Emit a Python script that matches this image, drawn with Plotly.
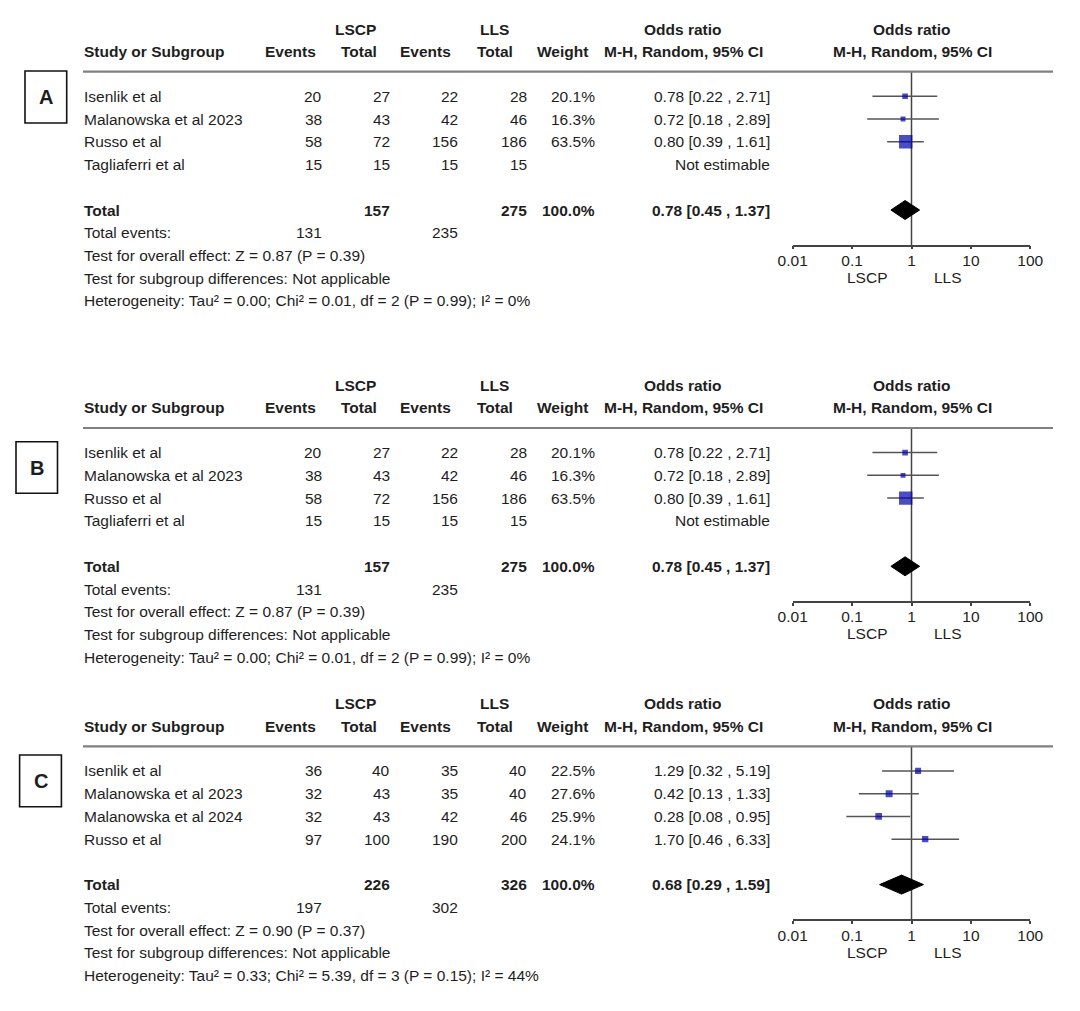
import math
import plotly.graph_objects as go

W, H = 1080, 1011
# the page places the figure 8px in from the top-left corner (default body margin)
DX, DY = 8, 8
FONT = "Liberation Sans, Arial, sans-serif"
FS = 15.5
TC = "#1e1e1e"

# ---------------- data ----------------
panel_labels = ["A", "B", "C"]

studies_A = ["Isenlik et al", "Malanowska et al 2023", "Russo et al", "Tagliaferri et al"]
lscp_events_A = [20, 38, 58, 15]
lscp_total_A = [27, 43, 72, 15]
lls_events_A = [22, 42, 156, 15]
lls_total_A = [28, 46, 186, 15]
weight_A = [20.1, 16.3, 63.5, None]
or_A = [0.78, 0.72, 0.80, None]
ci_low_A = [0.22, 0.18, 0.39, None]
ci_high_A = [2.71, 2.89, 1.61, None]
pooled_A = [0.78, 0.45, 1.37]
totals_A = [157, 275]
total_events_A = [131, 235]
overall_A = "Test for overall effect: Z = 0.87 (P = 0.39)"
subgroup_A = "Test for subgroup differences: Not applicable"
hetero_A = "Heterogeneity: Tau² = 0.00; Chi² = 0.01, df = 2 (P = 0.99); I² = 0%"

studies_B = ["Isenlik et al", "Malanowska et al 2023", "Russo et al", "Tagliaferri et al"]
lscp_events_B = [20, 38, 58, 15]
lscp_total_B = [27, 43, 72, 15]
lls_events_B = [22, 42, 156, 15]
lls_total_B = [28, 46, 186, 15]
weight_B = [20.1, 16.3, 63.5, None]
or_B = [0.78, 0.72, 0.80, None]
ci_low_B = [0.22, 0.18, 0.39, None]
ci_high_B = [2.71, 2.89, 1.61, None]
pooled_B = [0.78, 0.45, 1.37]
totals_B = [157, 275]
total_events_B = [131, 235]
overall_B = "Test for overall effect: Z = 0.87 (P = 0.39)"
subgroup_B = "Test for subgroup differences: Not applicable"
hetero_B = "Heterogeneity: Tau² = 0.00; Chi² = 0.01, df = 2 (P = 0.99); I² = 0%"

studies_C = ["Isenlik et al", "Malanowska et al 2023", "Malanowska et al 2024", "Russo et al"]
lscp_events_C = [36, 32, 32, 97]
lscp_total_C = [40, 43, 43, 100]
lls_events_C = [35, 35, 42, 190]
lls_total_C = [40, 40, 46, 200]
weight_C = [22.5, 27.6, 25.9, 24.1]
or_C = [1.29, 0.42, 0.28, 1.70]
ci_low_C = [0.32, 0.13, 0.08, 0.46]
ci_high_C = [5.19, 1.33, 0.95, 6.33]
pooled_C = [0.68, 0.29, 1.59]
totals_C = [226, 326]
total_events_C = [197, 302]
overall_C = "Test for overall effect: Z = 0.90 (P = 0.37)"
subgroup_C = "Test for subgroup differences: Not applicable"
hetero_C = "Heterogeneity: Tau² = 0.33; Chi² = 5.39, df = 3 (P = 0.15); I² = 44%"

tick_values = [0.01, 0.1, 1, 10, 100]
tick_labels = ["0.01", "0.1", "1", "10", "100"]
favours = ["LSCP", "LLS"]
group_names = ["LSCP", "LLS"]

panels = [
    dict(studies=studies_A, le=lscp_events_A, lt=lscp_total_A, ce=lls_events_A, ct=lls_total_A,
         w=weight_A, orr=or_A, lo=ci_low_A, hi=ci_high_A, pooled=pooled_A, totals=totals_A,
         tev=total_events_A, overall=overall_A, subgroup=subgroup_A, hetero=hetero_A),
    dict(studies=studies_B, le=lscp_events_B, lt=lscp_total_B, ce=lls_events_B, ct=lls_total_B,
         w=weight_B, orr=or_B, lo=ci_low_B, hi=ci_high_B, pooled=pooled_B, totals=totals_B,
         tev=total_events_B, overall=overall_B, subgroup=subgroup_B, hetero=hetero_B),
    dict(studies=studies_C, le=lscp_events_C, lt=lscp_total_C, ce=lls_events_C, ct=lls_total_C,
         w=weight_C, orr=or_C, lo=ci_low_C, hi=ci_high_C, pooled=pooled_C, totals=totals_C,
         tev=total_events_C, overall=overall_C, subgroup=subgroup_C, hetero=hetero_C),
]

# ---------------- layout geometry (screen pixels) ----------------
OFF = [0, 356.3, 674.6]
Y_H1, Y_H2, Y_RULE = 29.3, 51.6, 71.7
Y_ROW0, ROW_DY = 96.3, 22.75
Y_TOTAL, Y_TEV, Y_OVER, Y_SUB, Y_HET = 210.0, 232.7, 255.5, 278.2, 300.8
Y_AXIS, Y_FAV = 245.7, 277.5
BOXES = [(25, 66.7, 71, 123), (16, 57.5, 441.7, 493.3), (19.6, 61.4, 755, 806.7)]
X_LEFT = 83
X_LE, X_LT, X_CE, X_CT, X_W, X_CI = 323, 391, 459, 527.5, 595.5, 770.5
X0_PLOT, X1_PLOT = 792.7, 1030.3
RULE_X1 = 1053
FAV_X = [867, 948]

BLUE = "#0000A8"
LINEC = "#555555"
AXC = "#444444"

annotations = []
shapes = []
traces = []


def fx(px):
    return (px - DX) / W


def fy(py):
    return py - DY


def txt(x, y, s, anchor="left", bold=False, size=FS):
    annotations.append(dict(
        x=fx(x), y=fy(y), xref="paper", yref="y", text=s, showarrow=False,
        xanchor=anchor, yanchor="middle", borderpad=0,
        font=dict(family=FONT, size=size, color=TC, weight="bold" if bold else "normal")))


xa_names = ["x", "x2", "x3"]
layout_axes = {}
for p, (pan, off, lab, box) in enumerate(zip(panels, OFF, panel_labels, BOXES)):
    xa = xa_names[p]
    # headers
    txt((X_LE + X_LT) / 2 - 1.5, off + Y_H1, group_names[0], "center", True)
    txt((X_CE + X_CT) / 2 + 1.5, off + Y_H1, group_names[1], "center", True)
    txt(683, off + Y_H1, "Odds ratio", "center", True)
    txt(912, off + Y_H1, "Odds ratio", "center", True)
    txt(X_LEFT, off + Y_H2, "Study or Subgroup", "left", True)
    txt(290, off + Y_H2, "Events", "center", True)
    txt(358.5, off + Y_H2, "Total", "center", True)
    txt(425.7, off + Y_H2, "Events", "center", True)
    txt(494.6, off + Y_H2, "Total", "center", True)
    txt(562, off + Y_H2, "Weight", "center", True)
    txt(683, off + Y_H2, "M-H, Random, 95% CI", "center", True)
    txt(912, off + Y_H2, "M-H, Random, 95% CI", "center", True)

    shapes.append(dict(type="line", xref="paper", yref="y", x0=fx(X_LEFT), x1=fx(RULE_X1),
                       y0=fy(off + Y_RULE), y1=fy(off + Y_RULE),
                       line=dict(color="#808080", width=2.2)))
    bx0, bx1, by0, by1 = box
    shapes.append(dict(type="rect", xref="paper", yref="y", x0=fx(bx0), x1=fx(bx1),
                       y0=fy(by0), y1=fy(by1), line=dict(color="#111111", width=1.6)))
    txt((bx0 + bx1) / 2, (by0 + by1) / 2, lab, "center", True, 20)

    ci_x, ci_y = [], []
    mx, my, ms = [], [], []
    for i, name in enumerate(pan["studies"]):
        y = off + Y_ROW0 + i * ROW_DY
        txt(X_LEFT, y, name)
        txt(X_LE, y, str(pan["le"][i]), "right")
        txt(X_LT, y, str(pan["lt"][i]), "right")
        txt(X_CE, y, str(pan["ce"][i]), "right")
        txt(X_CT, y, str(pan["ct"][i]), "right")
        if pan["orr"][i] is None:
            txt(X_CI, y, "Not estimable", "right")
        else:
            txt(X_W, y, f"{pan['w'][i]:.1f}%", "right")
            txt(X_CI, y, f"{pan['orr'][i]:.2f} [{pan['lo'][i]:.2f} , {pan['hi'][i]:.2f}]", "right")
            ci_x += [pan["lo"][i], pan["hi"][i], None]
            ci_y += [fy(y), fy(y), None]
            mx.append(pan["orr"][i])
            my.append(fy(y))
            ms.append(2 + 0.18 * pan["w"][i])

    # totals
    yt = off + Y_TOTAL
    txt(X_LEFT, yt, "Total", "left", True)
    txt(X_LT, yt, str(pan["totals"][0]), "right", True)
    txt(X_CT, yt, str(pan["totals"][1]), "right", True)
    txt(X_W, yt, "100.0%", "right", True)
    est, plo, phi = pan["pooled"]
    txt(X_CI, yt, f"{est:.2f} [{plo:.2f} , {phi:.2f}]", "right", True)
    txt(X_LEFT, off + Y_TEV, "Total events:")
    txt(X_LE, off + Y_TEV, str(pan["tev"][0]), "right")
    txt(X_CE, off + Y_TEV, str(pan["tev"][1]), "right")
    txt(X_LEFT, off + Y_OVER, pan["overall"])
    txt(X_LEFT, off + Y_SUB, pan["subgroup"])
    txt(X_LEFT, off + Y_HET, pan["hetero"])

    # line of no effect
    traces.append(go.Scatter(x=[1, 1], y=[fy(off + Y_RULE), fy(off + Y_AXIS)], mode="lines",
                             line=dict(color=AXC, width=1.5), xaxis=xa, yaxis="y",
                             hoverinfo="skip", showlegend=False))
    # CI lines
    traces.append(go.Scatter(x=ci_x, y=ci_y, mode="lines", line=dict(color=LINEC, width=1.5),
                             xaxis=xa, yaxis="y", hoverinfo="skip", showlegend=False))
    # study squares
    traces.append(go.Scatter(x=mx, y=my, mode="markers",
                             marker=dict(symbol="square", size=ms, color=BLUE, line=dict(width=0)),
                             xaxis=xa, yaxis="y", showlegend=False))
    # diamond
    ytd = fy(yt)
    traces.append(go.Scatter(x=[plo, est, phi, est, plo], y=[ytd, ytd - 9.5, ytd, ytd + 9.5, ytd],
                             mode="lines", fill="toself", fillcolor="black",
                             line=dict(color="black", width=1), xaxis=xa, yaxis="y",
                             hoverinfo="skip", showlegend=False))

    # favours labels
    txt(FAV_X[0], off + Y_FAV, favours[0], "center")
    txt(FAV_X[1], off + Y_FAV, favours[1], "center")

    pos = 1 - fy(off + Y_AXIS) / H
    dom = [fx(X0_PLOT), fx(X1_PLOT)]
    key = "xaxis" if p == 0 else f"xaxis{p + 1}"
    ax = dict(type="log", range=[-2, 2], domain=dom, anchor="free", position=pos,
              showline=True, linecolor=AXC, linewidth=1.5, ticks="outside", ticklen=3,
              tickwidth=1.5, tickcolor=AXC, tickvals=tick_values, ticktext=tick_labels,
              tickfont=dict(family=FONT, size=FS, color=TC), showgrid=False, zeroline=False,
              fixedrange=True, ticklabelstandoff=-2, automargin=False)
    if p > 0:
        ax["overlaying"] = "x"
    layout_axes[key] = ax
    # second axis for the upward half of the crossing ticks
    key2 = f"xaxis{p + 4}"
    layout_axes[key2] = dict(type="log", range=[-2, 2], domain=dom, anchor="free", position=pos,
                             overlaying="x", showline=False, ticks="inside", ticklen=3.5,
                             tickwidth=1.5, tickcolor=AXC, tickvals=tick_values,
                             showticklabels=False, showgrid=False, zeroline=False,
                             fixedrange=True, automargin=False)

fig = go.Figure(data=traces)
fig.update_layout(
    width=W, height=H, autosize=False,
    margin=dict(l=0, r=0, t=0, b=0, pad=0, autoexpand=False),
    paper_bgcolor="white", plot_bgcolor="rgba(0,0,0,0)",
    yaxis=dict(range=[H, 0], domain=[0, 1], visible=False, fixedrange=True, anchor="x",
               automargin=False),
    annotations=annotations, shapes=shapes, showlegend=False,
    **layout_axes,
)
fig.write_html("out.html")
